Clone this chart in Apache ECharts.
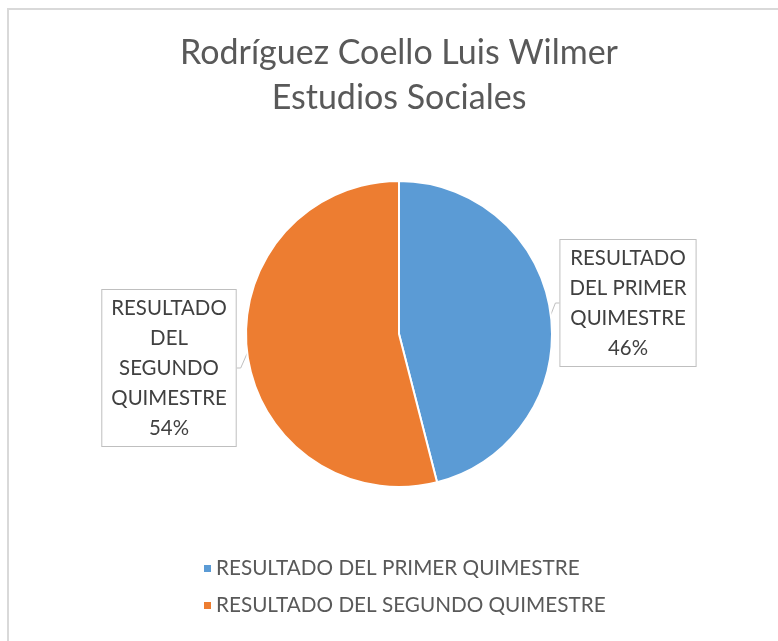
<!DOCTYPE html>
<html>
<head>
<meta charset="utf-8">
<script src="https://cdn.jsdelivr.net/npm/echarts@6/dist/echarts.min.js"></script>
<style>html,body{margin:0;padding:0;background:#fff;}#c{width:778px;height:641px;}</style>
</head>
<body>
<div id="c"></div>
<script>
const titleLines = ['Rodríguez Coello Luis Wilmer', 'Estudios Sociales'];
const categories = ['RESULTADO DEL PRIMER QUIMESTRE', 'RESULTADO DEL SEGUNDO QUIMESTRE'];
const values = [46, 54];
const labelTexts = ['RESULTADO\nDEL PRIMER\nQUIMESTRE', 'RESULTADO\nDEL\nSEGUNDO\nQUIMESTRE'];
const colors = ['#5B9BD5', '#ED7D31'];

const FONT = 'Lato, "Open Sans", sans-serif';
const chart = echarts.init(document.getElementById('c'));
const total = values.reduce((a, b) => a + b, 0);
chart.setOption({
  animation: false,
  backgroundColor: '#fff',
  color: colors,
  title: {
    text: titleLines.join('\n'),
    left: 399,
    textAlign: 'center',
    top: 31,
    padding: 0,
    textStyle: { fontFamily: FONT, fontSize: 34, fontWeight: 'normal', color: '#595959', lineHeight: 45 }
  },
  legend: {
    orient: 'vertical',
    left: 197,
    top: 553,
    itemWidth: 9,
    itemHeight: 9,
    itemGap: 16,
    icon: 'rect',
    data: categories,
    textStyle: { fontFamily: FONT, fontSize: 20.7, color: '#595959', padding: [0, 0, 0, -1] }
  },
  graphic: [{
    type: 'rect',
    shape: { x: 8, y: 9, width: 900, height: 800 },
    style: { fill: 'none', stroke: '#d9d9d9', lineWidth: 2 },
    silent: true,
    z: -1
  }],
  series: [{
    type: 'pie',
    center: [399, 334],
    radius: 153,
    startAngle: 90,
    clockwise: true,
    data: categories.map((n, i) => ({ name: n, value: values[i] })),
    itemStyle: { borderColor: '#fff', borderWidth: 2 },
    label: {
      show: true,
      position: 'outside',
      formatter: p => labelTexts[p.dataIndex] + '\n' + Math.round(p.value / total * 100) + '%',
      fontFamily: FONT,
      fontSize: 20.4,
      lineHeight: 30,
      color: '#404040',
      backgroundColor: '#fff',
      borderColor: '#bfbfbf',
      borderWidth: 1,
      padding: [3, 9, 3, 9],
      align: 'center'
    },
    labelLine: { show: true, length: 8, length2: 4, lineStyle: { color: '#bfbfbf', width: 1 } },
    labelLayout: p => p.dataIndex === 0
      ? { x: 628, y: 240, align: 'center', verticalAlign: 'top' }
      : { x: 169, y: 290, align: 'center', verticalAlign: 'top' }
  }]
});
</script>
</body>
</html>
